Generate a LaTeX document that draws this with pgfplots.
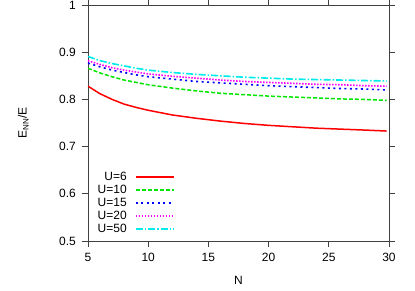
\documentclass[border=0pt]{standalone}
\usepackage{fontspec}
\setmainfont{Liberation Sans}
\usepackage{pgfplots}
\pgfplotsset{compat=1.18}
\definecolor{gpred}{RGB}{255,0,0}
\definecolor{gpgreen}{RGB}{0,230,0}
\definecolor{gpblue}{RGB}{0,0,255}
\definecolor{gpmag}{RGB}{255,0,255}
\definecolor{gpcyan}{RGB}{0,235,235}
\begin{document}
\fontsize{12pt}{14pt}\selectfont
\begin{tikzpicture}
\begin{axis}[
  scale only axis, width=301pt, height=236pt,
  xmin=5, xmax=30, ymin=0.5, ymax=1,
  xtick={5,10,15,20,25,30},
  ytick={0.5,0.6,0.7,0.8,0.9,1},
  yticklabels={0.5,0.6,0.7,0.8,0.9,1},
  /pgf/number format/assume math mode=true,
  tick align=outside, major tick length=6pt,
  axis line style={black!75, line width=0.9pt},
  every tick/.style={black!75, line width=0.9pt},
  tick label style={font=\fontsize{12pt}{14pt}\selectfont},
  xticklabel style={yshift=-2pt},
  yticklabel style={xshift=-2pt},
  xlabel={N}, ylabel={E\textsubscript{NN}/E},
  every axis x label/.style={at={(axis description cs:0.5,-0.165)}, anchor=center},
  every axis y label/.style={at={(axis description cs:-0.215,0.5)}, anchor=center, rotate=90},
  legend style={draw=none, fill=none, at={(axis description cs:0.015,0.31)}, anchor=north west,
    font=\fontsize{12pt}{13pt}\selectfont, row sep=-1.2pt},
  legend plot pos=right, legend cell align=right,
  legend image code/.code={\path (0pt,0pt); \draw[#1] plot coordinates {(6pt,0pt) (44pt,0pt)};},
]
\addplot[color=gpred, solid, line width=1.5pt] coordinates {(5,0.828)(6,0.812)(7,0.800)(8,0.790)(9,0.783)(10,0.777)(12,0.767)(14,0.760)(16,0.754)(18,0.749)(20,0.745)(22,0.742)(24,0.739)(26,0.737)(28,0.735)(29.8,0.733)};
\addlegendentry{U=6}
\addplot[color=gpgreen, line width=1.5pt, dash pattern=on 4pt off 2pt] coordinates {(5,0.866)(6,0.856)(7,0.848)(8,0.841)(9,0.836)(10,0.831)(12,0.824)(14,0.818)(16,0.813)(18,0.810)(20,0.807)(22,0.805)(24,0.803)(26,0.801)(28,0.800)(29.8,0.798)};
\addlegendentry{U=10}
\addplot[color=gpblue, line width=1.6pt, dash pattern=on 2pt off 3.5pt] coordinates {(5,0.877)(6,0.869)(7,0.862)(8,0.857)(9,0.852)(10,0.848)(12,0.843)(14,0.838)(16,0.835)(18,0.832)(20,0.829)(22,0.827)(24,0.825)(26,0.823)(28,0.822)(29.8,0.820)};
\addlegendentry{U=15}
\addplot[color=gpmag, line width=1.6pt, dash pattern=on 1.5pt off 1.5pt] coordinates {(5,0.882)(6,0.874)(7,0.867)(8,0.862)(9,0.858)(10,0.854)(12,0.849)(14,0.845)(16,0.841)(18,0.838)(20,0.836)(22,0.834)(24,0.832)(26,0.831)(28,0.829)(29.8,0.828)};
\addlegendentry{U=20}
\addplot[color=gpcyan, line width=1.6pt, dash pattern=on 7pt off 2pt on 1.5pt off 2pt] coordinates {(5,0.891)(6,0.882)(7,0.876)(8,0.871)(9,0.866)(10,0.862)(12,0.857)(14,0.853)(16,0.850)(18,0.847)(20,0.845)(22,0.843)(24,0.842)(26,0.841)(28,0.840)(29.8,0.839)};
\addlegendentry{U=50}
\end{axis}
\pgfresetboundingbox
\path (current axis.south west) ++(-88pt,-49pt) coordinate (bl);
\path (current axis.north east) ++(26pt,5pt) coordinate (tr);
\path (bl) rectangle (tr);
\end{tikzpicture}
\end{document}
